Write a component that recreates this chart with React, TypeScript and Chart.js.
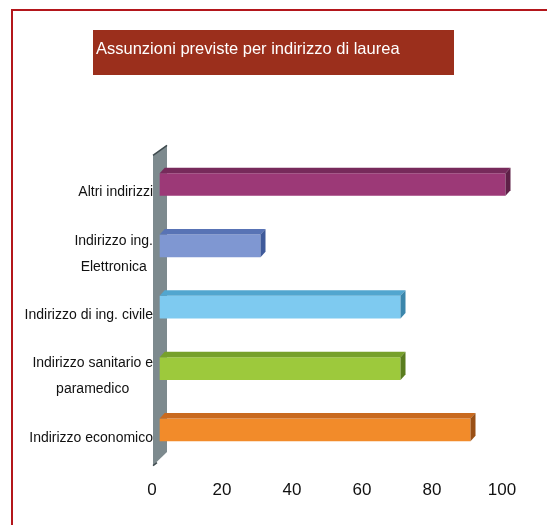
import React, { useEffect, useRef } from "react";
import { Chart, registerables } from "chart.js";

Chart.register(...registerables);

const TITLE = "Assunzioni previste per indirizzo di laurea";
const CATEGORIES: string[][] = [
  ["Altri indirizzi"],
  ["Indirizzo ing.", "Elettronica"],
  ["Indirizzo di ing. civile"],
  ["Indirizzo sanitario e", "paramedico"],
  ["Indirizzo economico"],
];
const VALUES = [101, 31, 71, 71, 91];
const X_TICKS = [0, 20, 40, 60, 80, 100];
const FRONT_COLORS = ["#9c3977", "#7f97d2", "#7ecaf0", "#9dc93c", "#f28b2a"];
const TOP_COLORS = ["#772a5b", "#5873b5", "#52a6cf", "#77a02b", "#c96a1f"];
const SIDE_COLORS = ["#5e2047", "#3f5a9a", "#3b86ab", "#5a7d1f", "#9a5016"];

const FONT = '"Liberation Sans", Arial, sans-serif';

const decorPlugin = {
  id: "decor",
  afterLayout(chart: any) {
    const t = chart.titleBlock;
    if (t) {
      t.left = 96;
      t.right = 454;
    }
  },
  beforeDraw(chart: any) {
    const ctx = chart.ctx;
    ctx.save();
    ctx.fillStyle = "#ffffff";
    ctx.fillRect(0, 0, chart.width, chart.height);
    // red frame
    ctx.fillStyle = "#b3161b";
    ctx.fillRect(11, 9, chart.width - 11, 2);
    ctx.fillRect(11, 9, 2, chart.height - 9);
    // title box
    ctx.fillStyle = "#9b2f1c";
    ctx.fillRect(93, 30, 361, 45);
    ctx.restore();
  },
  beforeDatasetsDraw(chart: any) {
    const ctx = chart.ctx;
    const area = chart.chartArea;
    const ys = chart.scales.y;
    ctx.save();
    // category labels, centered lines, right-aligned block
    ctx.font = "14px " + FONT;
    ctx.fillStyle = "#111111";
    ctx.textAlign = "center";
    ctx.textBaseline = "middle";
    CATEGORIES.forEach((lines, i) => {
      const cy = ys.getPixelForTick(i) + 8;
      const w = Math.max(...lines.map((l) => ctx.measureText(l).width));
      const cx = area.left + 1 - w / 2;
      lines.forEach((l, k) => {
        ctx.fillText(l, cx, cy + (k - (lines.length - 1) / 2) * 26);
      });
    });
    // side wall
    const l = area.left + 1;
    const r = area.left + 15;
    ctx.fillStyle = "#7d8a8e";
    ctx.beginPath();
    ctx.moveTo(l, area.top + 1.5);
    ctx.lineTo(r, area.top - 8.5);
    ctx.lineTo(r, area.bottom - 8.5);
    ctx.lineTo(l, area.bottom + 5);
    ctx.closePath();
    ctx.fill();
    ctx.strokeStyle = "#3f4b4f";
    ctx.lineWidth = 1.5;
    ctx.beginPath();
    ctx.moveTo(l, area.top + 1.5);
    ctx.lineTo(r, area.top - 8.5);
    ctx.stroke();
    ctx.beginPath();
    ctx.moveTo(l, area.bottom + 5);
    ctx.lineTo(l + 4, area.bottom + 2);
    ctx.stroke();
    ctx.restore();
  },
  afterDatasetsDraw(chart: any) {
    const ctx = chart.ctx;
    const meta = chart.getDatasetMeta(0);
    const dx = 5;
    const dy = -5.5;
    ctx.save();
    meta.data.forEach((el: any, i: number) => {
      const { x, y, base, height } = el.getProps(["x", "y", "base", "height"], true);
      const top = y - height / 2;
      const bottom = y + height / 2;
      ctx.fillStyle = TOP_COLORS[i];
      ctx.beginPath();
      ctx.moveTo(base, top);
      ctx.lineTo(x, top);
      ctx.lineTo(x + dx, top + dy);
      ctx.lineTo(base + dx, top + dy);
      ctx.closePath();
      ctx.fill();
      ctx.fillStyle = SIDE_COLORS[i];
      ctx.beginPath();
      ctx.moveTo(x, top);
      ctx.lineTo(x + dx, top + dy);
      ctx.lineTo(x + dx, bottom + dy);
      ctx.lineTo(x, bottom);
      ctx.closePath();
      ctx.fill();
    });
    ctx.restore();
  },
};

export default function App() {
  const ref = useRef<HTMLCanvasElement | null>(null);
  useEffect(() => {
    if (!ref.current) return;
    const chart = new Chart(ref.current, {
      type: "bar",
      data: {
        labels: CATEGORIES,
        datasets: [
          {
            data: VALUES,
            backgroundColor: FRONT_COLORS,
            borderWidth: 0,
            base: 2.2,
            barPercentage: 0.37,
            categoryPercentage: 1,
            clip: false,
          } as any,
        ],
      },
      plugins: [decorPlugin],
      options: {
        indexAxis: "y",
        responsive: false,
        animation: false,
        devicePixelRatio: 1,
        events: [],
        layout: { padding: { top: 0, left: 0, right: 45, bottom: 4 } },
        plugins: {
          legend: { display: false },
          tooltip: { enabled: false },
          title: {
            display: true,
            text: TITLE,
            align: "start",
            color: "#ffffff",
            font: { family: FONT, size: 16.5, weight: "normal", lineHeight: 1.2 },
            padding: { top: 40, bottom: 94 },
          },
        },
        scales: {
          x: {
            type: "linear",
            min: 0,
            max: 100,
            grid: { display: false, drawTicks: false },
            border: { display: false },
            afterBuildTicks: (s: any) => {
              s.ticks = X_TICKS.map((v) => ({ value: v }));
            },
            ticks: {
              color: "#111111",
              padding: 20,
              font: { family: FONT, size: 17 },
            },
          },
          y: {
            type: "category",
            grid: { display: false },
            border: { display: false },
            ticks: { display: false },
            afterFit: (s: any) => {
              s.width = 152;
            },
          },
        },
      },
    });
    return () => chart.destroy();
  }, []);
  return (
    <div style={{ position: "absolute", left: 0, top: 0, width: 547, height: 525, overflow: "hidden" }}>
      <canvas ref={ref} width={547} height={525} style={{ display: "block" }} />
    </div>
  );
}
